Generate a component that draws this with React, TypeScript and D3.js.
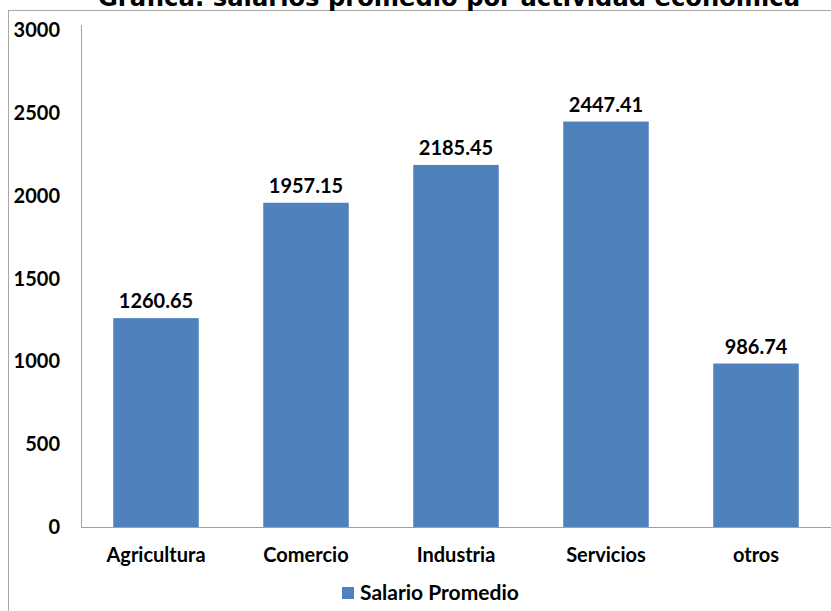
import React from "react";
import * as d3 from "d3";

const categories = ["Agricultura", "Comercio", "Industria", "Servicios", "otros"];
const values = [1260.65, 1957.15, 2185.45, 2447.41, 986.74];
const yTicks = [0, 500, 1000, 1500, 2000, 2500, 3000];
const seriesName = "Salario Promedio";
const title = "Gráfica: salarios promedio por actividad económica";

const W = 831;
const H = 611;
const plotLeft = 81;
const plotRight = 831;
const plotTop = 30;
const plotBottom = 527;
const barColor = "#4F81BD";
const font = "Lato, 'Open Sans', sans-serif";

export default function App() {
  const x = d3.scaleBand<string>().domain(categories).range([plotLeft, plotRight]).paddingInner(0.43).paddingOuter(0.215);
  const y = d3.scaleLinear().domain([0, 3000]).range([plotBottom, plotTop]);
  return (
    <svg width={W} height={H} style={{ position: "absolute", left: 0, top: 0, background: "#fff" }}>
      <rect x={8.5} y={10.5} width={W} height={H} fill="none" stroke="#a6a6a6" strokeWidth={1} />
      <text x={449} y={6} textAnchor="middle" fontFamily="'DejaVu Sans', sans-serif" fontWeight="bold" fontSize={24} textLength={702} lengthAdjust="spacingAndGlyphs" fill="#000">{title}</text>
      {yTicks.map((t) => (
        <text key={t} x={60} y={y(t)} dy="0.35em" textAnchor="end" fontFamily={font} fontWeight="bold" fontSize={20} fill="#000">{t}</text>
      ))}
      <line x1={plotLeft + 0.5} x2={plotLeft + 0.5} y1={plotTop - 5} y2={plotBottom} stroke="#a0a0a0" />
      {categories.map((c, i) => (
        <g key={c}>
          <rect x={x(c)} y={y(values[i])} width={x.bandwidth()} height={plotBottom - y(values[i])} fill={barColor} />
          <text x={(x(c) as number) + x.bandwidth() / 2} y={y(values[i]) - 10} textAnchor="middle" fontFamily={font} fontWeight="bold" fontSize={20} fill="#000">{values[i].toFixed(2)}</text>
          <text x={(x(c) as number) + x.bandwidth() / 2} y={562} textAnchor="middle" fontFamily={font} fontWeight="bold" fontSize={20} fill="#000">{c}</text>
        </g>
      ))}
      <line x1={plotLeft} x2={plotRight} y1={plotBottom + 0.5} y2={plotBottom + 0.5} stroke="#a0a0a0" />
      <rect x={342} y={587} width={12} height={12} fill={barColor} />
      <text x={360} y={600} fontFamily={font} fontWeight="bold" fontSize={21} fill="#000">{seriesName}</text>
    </svg>
  );
}
